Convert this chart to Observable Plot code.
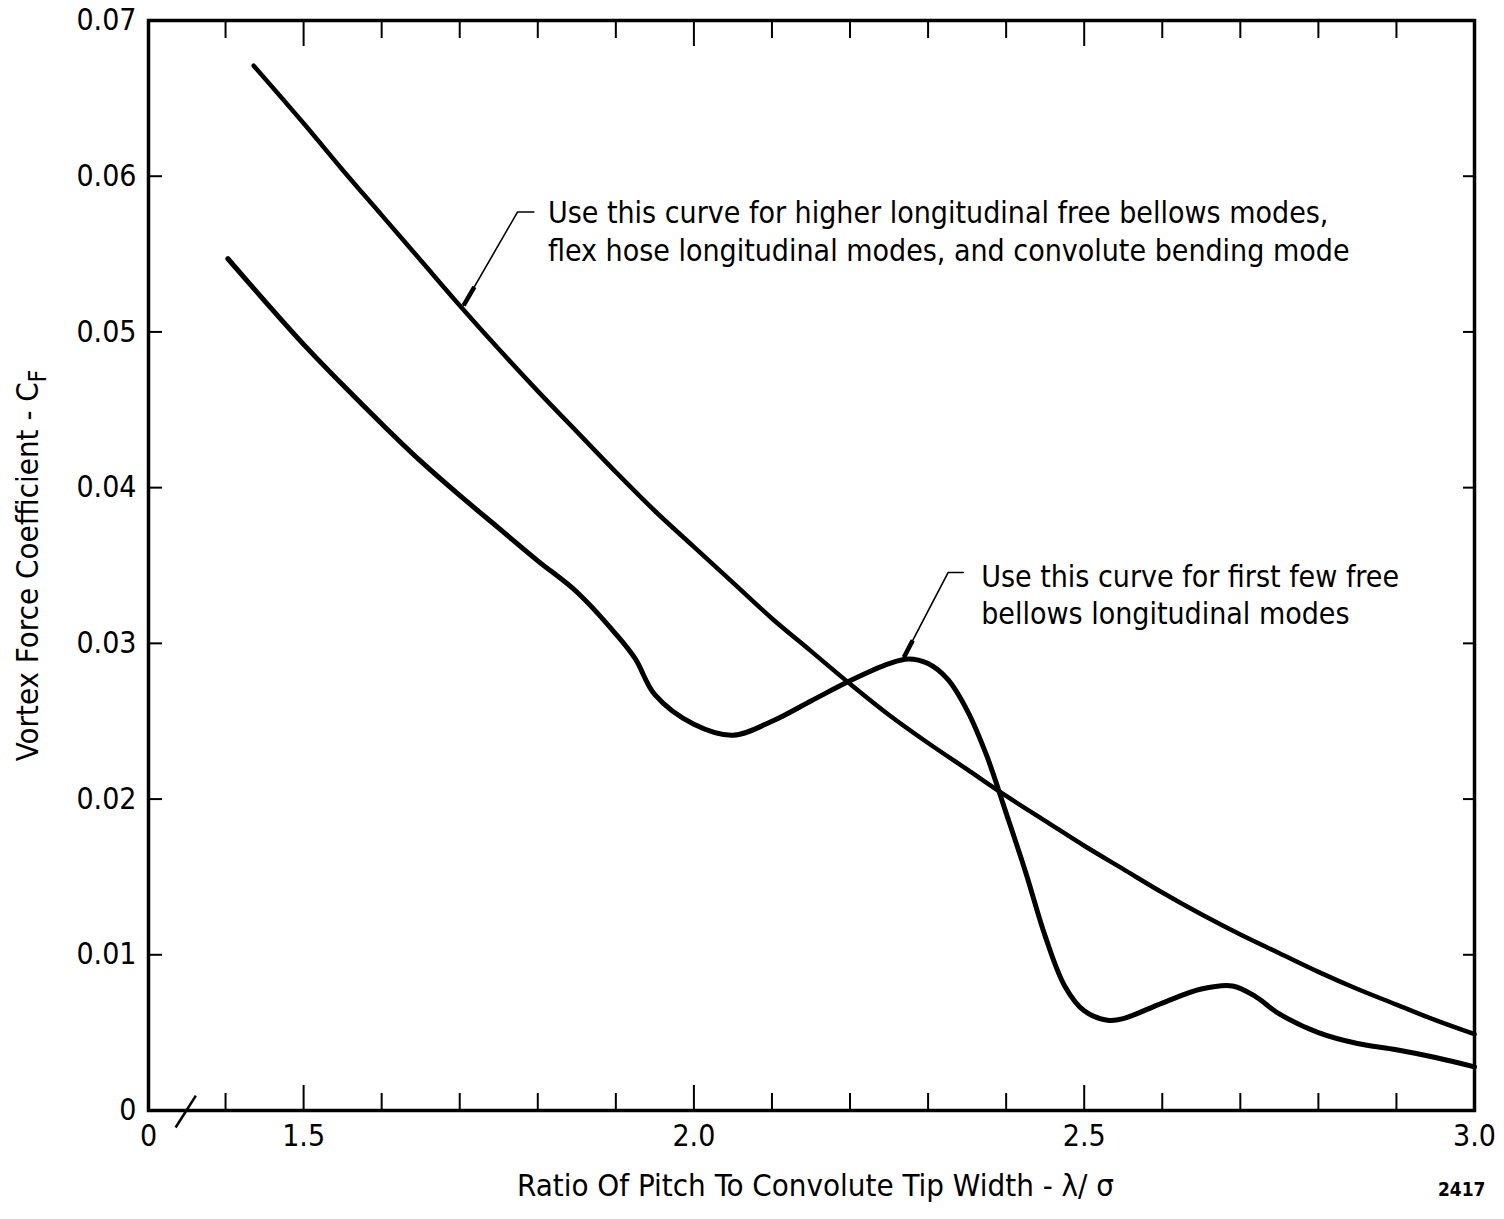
<!DOCTYPE html>
<html>
<head>
<meta charset="utf-8">
<script src="https://cdn.jsdelivr.net/npm/d3@7"></script>
<script src="https://cdn.jsdelivr.net/npm/@observablehq/plot@0.6"></script>
<style>
  html, body { margin: 0; padding: 0; background: #fff; }
  #chart svg { display: block; }
</style>
</head>
<body>
<div id="chart"></div>
<script>
// ---- data ----
const xOrigin = 1.3013; // left edge of broken axis, labelled "0"
const highX = [1.436, 1.5, 1.55, 1.6, 1.65, 1.7, 1.75, 1.8, 1.85, 1.9, 1.95, 2.0, 2.05, 2.1, 2.15, 2.2, 2.25, 2.3, 2.35, 2.4, 2.45, 2.5, 2.55, 2.6, 2.65, 2.7, 2.75, 2.8, 2.85, 2.9, 2.95, 3.0];
const highY = [0.0671, 0.0634, 0.0604, 0.0575, 0.0546, 0.0517, 0.0489, 0.0462, 0.0436, 0.0410, 0.0385, 0.0362, 0.0339, 0.0316, 0.0295, 0.0274, 0.0254, 0.0236, 0.0219, 0.0202, 0.0186, 0.0170, 0.0155, 0.0140, 0.0126, 0.0113, 0.0101, 0.0089, 0.0078, 0.0068, 0.0058, 0.0049];
const lowX = [1.403, 1.45, 1.5, 1.55, 1.6, 1.65, 1.7, 1.75, 1.8, 1.85, 1.9, 1.925, 1.95, 2.0, 2.05, 2.1, 2.15, 2.2, 2.25, 2.275, 2.3, 2.325, 2.35, 2.375, 2.4, 2.425, 2.45, 2.475, 2.5, 2.53, 2.55, 2.6, 2.65, 2.69, 2.72, 2.75, 2.8, 2.85, 2.9, 2.95, 3.0];
const lowY = [0.0547, 0.0520, 0.0492, 0.0466, 0.0441, 0.0417, 0.0395, 0.0374, 0.0353, 0.0333, 0.0306, 0.0290, 0.0267, 0.0248, 0.0241, 0.0250, 0.0263, 0.0276, 0.0287, 0.0290, 0.0287, 0.0277, 0.0257, 0.0228, 0.0191, 0.0153, 0.0112, 0.0080, 0.0064, 0.0058, 0.0059, 0.0069, 0.0078, 0.0080, 0.0073, 0.0062, 0.0050, 0.0043, 0.0039, 0.0034, 0.0028];

const yTicks = [0, 0.01, 0.02, 0.03, 0.04, 0.05, 0.06, 0.07];
const xMinorTicks = [1.4, 1.6, 1.7, 1.8, 1.9, 2.1, 2.2, 2.3, 2.4, 2.6, 2.7, 2.8, 2.9];
const xMajorTicks = [1.5, 2.0, 2.5, 3.0];
const xLabelTicks = [xOrigin, 1.5, 2.0, 2.5, 3.0];

const xTitle = "Ratio Of Pitch To Convolute Tip Width - λ/ σ";
const yTitle = "Vortex Force Coefficient - C";
const ySub = "F";
const figNumber = "2417";

const noteLines = [
  {x: 1.813, y: 0.0576, text: "Use this curve for higher longitudinal free bellows modes,"},
  {x: 1.813, y: 0.0552, text: "flex hose longitudinal modes, and convolute bending mode"},
  {x: 2.368, y: 0.03423, text: "Use this curve for first few free"},
  {x: 2.368, y: 0.03186, text: "bellows longitudinal modes"}
];
const leaders = [
  {id: 1, pts: [[1.795, 0.0577], [1.774, 0.0577], [1.705, 0.0517]]},
  {id: 2, pts: [[2.345, 0.03455], [2.3256, 0.03455], [2.269, 0.0291]]}
];
const breakMark = [{x1: 1.336, y1: -0.00109, x2: 1.362, y2: 0.00096}];

// ---- build tables ----
const high = highX.map((x, i) => ({x, y: highY[i]}));
const low = lowX.map((x, i) => ({x, y: lowY[i]}));
const leaderPts = leaders.flatMap(l => l.pts.map(([x, y]) => ({id: l.id, x, y})));
const arrowHeads = leaders.map(l => {
  const [a, b] = [l.pts[1], l.pts[2]];
  const t = 0.2;
  return {x1: b[0] + (a[0] - b[0]) * t, y1: b[1] + (a[1] - b[1]) * t, x2: b[0], y2: b[1]};
});

const FONT = "'Liberation Sans Narrow', 'DejaVu Sans Condensed', 'Roboto Condensed', sans-serif";

const fmtY = d => d === 0 ? "0" : d.toFixed(2);
const fmtX = d => d === xOrigin ? "0" : d.toFixed(1);

const chart = Plot.plot({
  width: 1504,
  height: 1219,
  marginLeft: 148,
  marginRight: 30,
  marginTop: 20,
  marginBottom: 109,
  x: {domain: [xOrigin, 3.0]},
  y: {domain: [0, 0.07]},
  style: {fontFamily: FONT, fontSize: "30px", color: "#000", background: "#fff"},
  marks: [
    // ticks (inward)
    Plot.axisY(yTicks, {anchor: "left", tickSize: -14, tickFormat: () => "", label: null, strokeWidth: 2}),
    Plot.axisY(yTicks, {anchor: "right", tickSize: -12, tickFormat: () => "", label: null, strokeWidth: 2}),
    Plot.axisX(xMinorTicks, {anchor: "bottom", tickSize: -17, tickFormat: () => "", label: null, strokeWidth: 2}),
    Plot.axisX(xMajorTicks, {anchor: "bottom", tickSize: -25, tickFormat: () => "", label: null, strokeWidth: 2}),
    Plot.axisX(xMinorTicks, {anchor: "top", tickSize: -17, tickFormat: () => "", label: null, strokeWidth: 2}),
    Plot.axisX(xMajorTicks, {anchor: "top", tickSize: -25, tickFormat: () => "", label: null, strokeWidth: 2}),
    // tick labels
    Plot.axisY(yTicks, {anchor: "left", tickSize: 0, tickPadding: 12, tickFormat: fmtY, label: null, fontSize: 30}),
    Plot.axisX(xLabelTicks, {anchor: "bottom", tickSize: 0, tickPadding: 14, tickFormat: fmtX, label: null, fontSize: 30}),
    Plot.frame({stroke: "#000", strokeWidth: 3.5}),
    // curves
    Plot.line(high, {x: "x", y: "y", curve: "catmull-rom", stroke: "#000", strokeWidth: 4.5}),
    Plot.line(low, {x: "x", y: "y", curve: "catmull-rom", stroke: "#000", strokeWidth: 5}),
    // break symbol
    Plot.link(breakMark, {x1: "x1", y1: "y1", x2: "x2", y2: "y2", stroke: "#000", strokeWidth: 2.5}),
    // annotations
    Plot.line(leaderPts, {x: "x", y: "y", z: "id", stroke: "#000", strokeWidth: 1.6}),
    Plot.link(arrowHeads, {x1: "x1", y1: "y1", x2: "x2", y2: "y2", stroke: "#000", strokeWidth: 4.5}),
    Plot.text(noteLines, {x: "x", y: "y", text: "text", textAnchor: "start", lineAnchor: "middle", fontSize: 30, fill: "#000"}),
    // axis titles
    Plot.text([xTitle], {frameAnchor: "bottom", textAnchor: "middle", dx: 4, dy: 85, fontSize: 31, fill: "#000"}),
    Plot.text([yTitle], {frameAnchor: "left", textAnchor: "middle", rotate: -90, dx: -120, dy: 0, fontSize: 31, fill: "#000"}),
    Plot.text([figNumber], {frameAnchor: "bottom-right", textAnchor: "end", dx: 11, dy: 85, fontSize: 19, fontWeight: "bold", fill: "#000"})
  ]
});

// subscript F on the y title
d3.select(chart).selectAll("text")
  .filter(function() { return this.textContent === yTitle; })
  .append("tspan")
  .attr("dy", "0.3em")
  .attr("font-size", "24px")
  .text(ySub);

document.getElementById("chart").appendChild(chart);
</script>
</body>
</html>
